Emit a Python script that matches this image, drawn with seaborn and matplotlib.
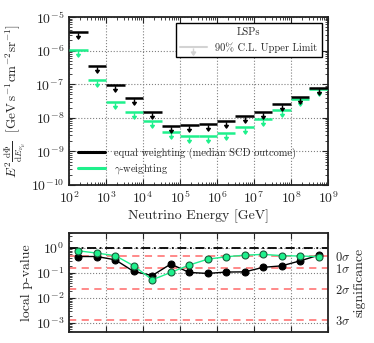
import numpy as np
import pandas as pd
import seaborn as sns
import matplotlib.pyplot as plt
from matplotlib.path import Path
from matplotlib.lines import Line2D
from matplotlib.legend_handler import HandlerTuple
from matplotlib.ticker import LogLocator, NullFormatter

sns.set_style("ticks")
plt.rcParams['font.family'] = 'serif'
plt.rcParams['font.serif'] = ['cmr10', 'DejaVu Serif']
plt.rcParams['mathtext.fontset'] = 'cm'
plt.rcParams['axes.formatter.use_mathtext'] = True
plt.rcParams['axes.unicode_minus'] = False

# half-decade energy bins, 10^2 .. 10^9 GeV
bin_edges = 10 ** np.arange(2.0, 9.01, 0.5)
bin_centers = 10 ** (np.arange(2.0, 8.6, 0.5) + 0.25)

# 90% C.L. upper limits, E^2 dPhi/dE [GeV s^-1 cm^-2 sr^-1]
ul_equal = [3.6e-6, 3.5e-7, 9.3e-8, 3.8e-8, 1.5e-8, 5.9e-9, 6.0e-9,
            6.6e-9, 7.9e-9, 1.1e-8, 1.45e-8, 2.5e-8, 4.3e-8, 7.8e-8]
ul_gamma = [1.04e-6, 1.33e-7, 3.0e-8, 1.48e-8, 8.1e-9, 3.9e-9, 2.9e-9,
            2.9e-9, 3.5e-9, 5.5e-9, 9.3e-9, 1.7e-8, 3.7e-8, 7.2e-8]

# local p-values
p_equal = [0.46, 0.46, 0.34, 0.116, 0.08, 0.23, 0.106,
           0.097, 0.11, 0.112, 0.17, 0.195, 0.31, 0.52]
p_gamma = [0.78, 0.63, 0.5, 0.195, 0.054, 0.106, 0.21,
           0.36, 0.45, 0.52, 0.56, 0.5, 0.48, 0.46]

sigma_labels = [r'$0\sigma$', r'$1\sigma$', r'$2\sigma$', r'$3\sigma$']
sigma_p = [0.5, 0.1587, 0.02275, 0.00135]

green = '#1ef08c'

# downward arrow marker hanging below the point
arrow = Path([(0, -0.12), (0, -0.85), (-0.28, -0.6), (0, -1.0), (0.28, -0.6), (0, -1.0)],
             [Path.MOVETO, Path.LINETO, Path.MOVETO, Path.LINETO, Path.LINETO, Path.CLOSEPOLY])

fig = plt.figure(figsize=(3.74, 3.43), dpi=100)
ax = fig.add_axes([0.1845, 0.4606, 0.6925, 0.4898])
ax2 = fig.add_axes([0.1845, 0.032, 0.6925, 0.2886])

df = pd.DataFrame({'E': bin_centers, 'equal': ul_equal, 'gamma': ul_gamma,
                   'p_equal': p_equal, 'p_gamma': p_gamma})

ax.hlines(ul_equal, bin_edges[:-1], bin_edges[1:], color='black', lw=1.8, zorder=4)
ax.hlines(ul_gamma, bin_edges[:-1], bin_edges[1:], color=green, lw=1.8, zorder=3)
sns.scatterplot(data=df, x='E', y='equal', marker=arrow, s=90, color='black',
                edgecolor='black', linewidth=1.0, ax=ax, zorder=4, legend=False)
sns.scatterplot(data=df, x='E', y='gamma', marker=arrow, s=90, color=green,
                edgecolor=green, linewidth=1.0, ax=ax, zorder=3, legend=False)

ax.set_xscale('log')
ax.set_yscale('log')
ax.set_xlim(1e2, 1e9)
ax.set_ylim(1e-10, 1e-5)
ax.set_xticks(10.0 ** np.arange(2, 10))
ax.set_yticks(10.0 ** np.arange(-10, -4))
ax.grid(True, which='major', ls=':', color='gray', lw=0.8)
ax.set_xlabel('Neutrino Energy [GeV]', fontsize=10, labelpad=2)
ax.set_ylabel(r'$E^2\frac{\mathrm{d}\Phi}{\mathrm{d}E_{\nu_\mu}}$  [GeV$\,$s$^{-1}$cm$^{-2}$sr$^{-1}$]',
              fontsize=9.5, labelpad=2)

h_eq = Line2D([], [], color='black', lw=2.2)
h_ga = Line2D([], [], color=green, lw=2.2)
leg1 = ax.legend([h_eq, h_ga], ['equal weighting (median SCD outcome)', r'$\gamma$-weighting'],
                 loc='lower left', frameon=False, fontsize=7.5, handlelength=2.6,
                 borderaxespad=0.5, labelspacing=0.3)
ax.add_artist(leg1)
h_ul = (Line2D([], [], color='lightgray', lw=1.5),
        Line2D([], [], ls='none', marker=arrow, ms=11, color='lightgray', mew=1.0))
leg2 = ax.legend([h_ul], ['90% C.L. Upper Limit'], title='LSPs', loc='upper right',
                 fontsize=7.5, title_fontsize=7.5, fancybox=False, edgecolor='black',
                 framealpha=1, handlelength=2.6, borderaxespad=0.6,
                 handler_map={tuple: HandlerTuple(ndivide=1, pad=0)})
leg2.get_frame().set_linewidth(1.0)

# p-value panel
ax2.axhline(1.0, color='black', ls='-.', lw=1.3, dashes=(5, 2, 1, 2))
for p in sigma_p:
    ax2.axhline(p, color='#ff8080', ls='--', lw=1.3, dashes=(4, 3))
sns.lineplot(data=df, x='E', y='p_equal', color='black', marker='o', ms=5,
             mec='black', lw=1.0, ax=ax2, zorder=4)
sns.lineplot(data=df, x='E', y='p_gamma', color=green, marker='o', ms=5,
             mfc=green, mec='#1a5a3a', mew=0.8, lw=1.0, ax=ax2, zorder=5)
ax2.set_xscale('log')
ax2.set_yscale('log')
ax2.set_xlim(1e2, 1e9)
ax2.set_ylim(4.4e-4, 4.0)
ax2.set_xticks(10.0 ** np.arange(2, 10))
ax2.set_yticks(10.0 ** np.arange(-3, 1))
ax2.set_xticklabels([])
ax2.grid(True, which='major', ls=':', color='gray', lw=0.8)
ax2.set_xlabel('')
ax2.set_ylabel('local p-value', fontsize=10, labelpad=2)

for a in (ax, ax2):
    for axis in (a.xaxis, a.yaxis):
        axis.set_minor_locator(LogLocator(base=10, subs=np.arange(2, 10), numticks=100))
        axis.set_minor_formatter(NullFormatter())
    a.tick_params(which='both', direction='in', top=True, right=True, labelsize=10)
    a.tick_params(which='major', length=4, width=0.8)
    a.tick_params(which='minor', length=2.5, width=0.6)
    for s in a.spines.values():
        s.set_linewidth(1.3)
        s.set_color('#222222')

axr = ax2.twinx()
axr.set_yscale('log')
axr.set_ylim(ax2.get_ylim())
axr.set_yticks(sigma_p)
axr.set_yticklabels(sigma_labels, fontsize=9)
axr.minorticks_off()
axr.tick_params(axis='y', length=0, pad=5)
axr.set_ylabel('significance', fontsize=10, labelpad=2)
for s in axr.spines.values():
    s.set_visible(False)

fig.savefig('out.png', dpi=100)
